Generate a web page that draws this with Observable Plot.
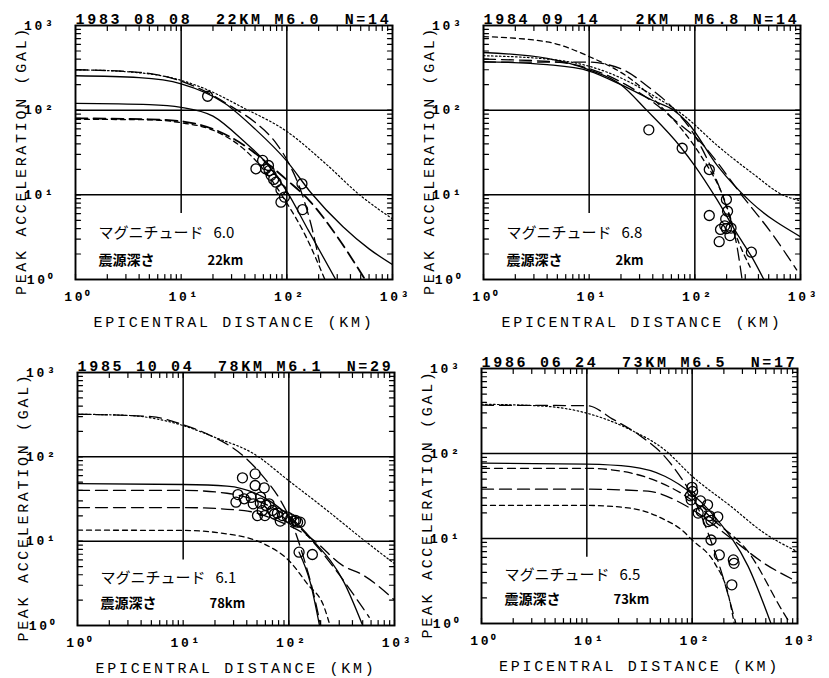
<!DOCTYPE html>
<html><head><meta charset="utf-8">
<script src="https://cdn.jsdelivr.net/npm/d3@7"></script>
<script src="https://cdn.jsdelivr.net/npm/@observablehq/plot@0.6"></script>
<style>
body{margin:0;background:#fff;}
#root{position:relative;width:829px;height:678px;overflow:hidden;background:#fff;}
.panel{position:absolute;}
.panel svg text{letter-spacing:2.7px;}
.panel svg g[font-family*="CJK"] text{letter-spacing:0px;}
</style></head>
<body><div id="root"></div>
<script>
// ---------- axis / text data ----------
const decades = [1, 10, 100, 1000];
const decadeLabels = ["10⁰", "10¹", "10²", "10³"];
const minorSteps = [2, 3, 4, 5, 6, 7, 8, 9];
const xTitle = "EPICENTRAL DISTANCE (KM)";
const yTitle = "PEAK ACCELERATION (GAL)";
const panelTitles = [
  "1983 08 08  22KM M6.0  N=14",
  "1984 09 14   2KM  M6.8 N=14",
  "1985 10 04  78KM M6.1  N=29",
  "1986 06 24  73KM M6.5  N=17"
];
const magnitudeLabel = "マグニチュード";
const depthLabel = "震源深さ";
const magnitudes = ["6.0", "6.8", "6.1", "6.5"];
const depths = ["22km", "2km", "78km", "73km"];

// ---------- panel 1 : 1983 08 08 ----------
const p1Dotted   = [[1,300],[3,285],[10,225],[17,178],[38,108],[100,56],[236,23],[488,10],[1000,5.2]];
const p1LongA    = [[1,300],[4,280],[10,220],[18,160],[30,110],[50,72],[80,40],[100,26],[140,10],[175,3.8],[204,1.6]];
const p1SolidA   = [[1,255],[4,242],[10,205],[26,120],[50,60],[100,25],[170,10.5],[340,4.2],[600,2.3],[1000,1.5]];
const p1SolidB   = [[1,120],[5,116],[10,108],[20,85],[40,42],[60,26],[100,11],[160,3.8],[290,1]];
const p1LongB    = [[1,80],[5,78],[10,74],[20,60],[40,38],[70,22],[100,15],[164,8.5],[300,3.2],[550,1]];
const p1Short    = [[1,78],[5,77],[10,71],[20,58],[40,34],[60,20],[100,8],[150,3.3],[229,1]];
const p1Obs = [[17.8,146],[51,20.3],[59,25.5],[67,22.2],[68,19.3],[71,17],[75,15.2],[79,14.1],[88,11.5],[95,9.4],[88,8.2],[139,13.5],[141,6.7],[63,20.3]];

// ---------- panel 2 : 1984 09 14 ----------
const p2Dotted   = [[1,440],[5,390],[10,330],[20,240],[40,150],[80,85],[164,38],[340,18.5],[700,9.8],[1000,8.5]];
const p2Short    = [[1,740],[4,640],[10,430],[27,215],[47,113],[79,55],[114,29],[189,9],[253,3],[334,1.4]];
const p2LongSteep= [[1,370],[10,370],[15,345],[21,300],[38,180],[63,104],[100,50],[140,22],[200,7],[250,2.5],[280,1]];
const p2SolidS   = [[1,480],[4,410],[10,300],[20,200],[35,100],[73,37],[100,22],[160,9],[250,3.5],[350,1.8],[450,1]];
const p2SolidR   = [[1,375],[4,345],[10,290],[20,200],[40,130],[63,100],[85,72],[164,22],[340,8.2],[1000,3.2]];
const p2LongR    = [[1,400],[5,370],[10,310],[20,215],[40,125],[70,70],[105,46],[295,9],[526,3.6],[920,1.3]];
const p2Obs = [[36.7,58.6],[75.9,35.5],[137,19.9],[199,8.8],[204,6.4],[137,5.7],[196,5.2],[192,4.3],[175,3.9],[220,4.05],[215,3.3],[170,2.8],[343,2.1],[199,4.0]];

// ---------- panel 3 : 1985 10 04 ----------
const p3Dotted   = [[1,320],[3,310],[10,235],[20,170],[47,108],[100,52],[232,23],[480,11],[1000,5.4]];
const p3LongSteep= [[1,320],[5,300],[10,240],[18,180],[38,100],[58,57],[84,30],[110,15],[140,6],[170,2.5],[200,1]];
const p3Solid    = [[1,48],[10,47],[26,45],[58,33],[105,19],[160,11],[335,3.2],[500,1]];
const p3LongMid  = [[1,40],[10,40],[26,37],[58,28],[105,18],[180,9],[300,4],[577,1.25]];
const p3LongLow  = [[1,25],[10,25],[38,23],[78,17.5],[160,11],[335,5],[480,4.1],[1000,2]];
const p3Short    = [[1,13.5],[10,13.4],[26,12.2],[58,9.3],[100,5.9],[150,3.1],[216,1.65],[245,1]];
const p3Thin     = [[125,7.4],[160,3.2],[195,1]];
const p3Obs = [[36.4,56.4],[48,62.8],[48,45.7],[58.5,42.9],[33,35.7],[37.8,31.8],[31.6,29],[46,27.7],[53.7,28.2],[60.8,26.5],[50.5,20.1],[59.4,20.1],[70,23.1],[78,21.5],[87,20.1],[83,17.3],[104,18.4],[112,17.3],[121,16.8],[128,16.8],[116,17.6],[65,27.7],[54,33.3],[125,7.4],[167,6.95],[97,19.3],[44,33],[73,21],[56,23]];

// ---------- panel 4 : 1986 06 24 ----------
const p4Dotted   = [[1,380],[4,360],[10,298],[26,190],[55,110],[100,54],[232,24],[483,11.6],[1000,7]];
const p4LongSteep= [[1,370],[10,365],[18,250],[33,158],[55,92],[80,50],[100,32],[140,12],[190,4],[260,1]];
const p4Solid    = [[1,77],[10,75],[26,70],[55,54],[98,34],[164,18],[340,4.7],[560,1]];
const p4Dash     = [[1,67],[10,67],[26,59],[55,43],[100,28],[164,16],[340,7],[720,1.4],[850,1]];
const p4LongLow  = [[1,38],[10,38],[38,36],[79,26],[100,22],[235,10],[483,5.1],[1000,3.1]];
const p4Short    = [[1,24.5],[10,24.5],[26,22.7],[55,16.6],[79,12.7],[100,9.6],[164,5.1],[218,2.3],[251,1]];
const p4Obs = [[99.6,40],[101,35.7],[96,31.8],[98,28.5],[120,27.7],[140,24.9],[122,20.8],[114,19.9],[146,18.5],[175,18],[151,16.3],[142,15.8],[151,9.6],[181,6.4],[246,5.6],[250,5.1],[238,2.85]];

// ---------- styling ----------
const dashes = {solid: null, long: "12,6", heavy: "12,6", dash: "8,5", short: "5,4", dotted: "1.6,2.4"};
const widths = {solid: 1.3, long: 1.3, heavy: 1.8, dash: 1.3, short: 1.3, dotted: 1.2};
const panels = [
  {left: 0,   top: 0,   width: 414, height: 330, m: [25, 22, 51, 75],
   curves: [[p1Dotted,"dotted"],[p1LongA,"long"],[p1SolidA,"solid"],[p1SolidB,"solid"],[p1LongB,"heavy"],[p1Short,"short"]], obs: p1Obs, textDy: [-42, -15]},
  {left: 414, top: 0,   width: 415, height: 330, m: [25, 29, 51, 69],
   curves: [[p2Dotted,"dotted"],[p2Short,"short"],[p2LongSteep,"long"],[p2SolidS,"solid"],[p2SolidR,"solid"],[p2LongR,"long"]], obs: p2Obs, textDy: [-42, -15]},
  {left: 0,   top: 330, width: 414, height: 348, m: [42, 20, 53, 77],
   curves: [[p3Dotted,"dotted"],[p3LongSteep,"long"],[p3Solid,"solid"],[p3LongMid,"long"],[p3LongLow,"long"],[p3Short,"short"],[p3Thin,"solid"]], obs: p3Obs, textDy: [-43, -18]},
  {left: 414, top: 330, width: 415, height: 348, m: [38, 32, 55, 67],
   curves: [[p4Dotted,"dotted"],[p4LongSteep,"long"],[p4Solid,"solid"],[p4Dash,"dash"],[p4LongLow,"long"],[p4Short,"short"]], obs: p4Obs, textDy: [-44, -20]}
];

const tickValues = decades.slice(0, 3).flatMap(d => [d, ...minorSteps.map(m => d * m)]).concat([1000]);
const tickShape = {draw(ctx, l) { ctx.moveTo(0, 0); ctx.lineTo(0, -l); }};
const MONO = "Liberation Mono";
const CJK = "Noto Sans CJK JP";

function tickMarks() {
  const o = {length: 5, anchor: "start", shape: tickShape, strokeWidth: 1.2, stroke: "black"};
  return [
    Plot.vectorX(tickValues, {...o, x: d => d, frameAnchor: "bottom", rotate: 0}),
    Plot.vectorX(tickValues, {...o, x: d => d, frameAnchor: "top", rotate: 180}),
    Plot.vectorY(tickValues, {...o, y: d => d, frameAnchor: "left", rotate: 90}),
    Plot.vectorY(tickValues, {...o, y: d => d, frameAnchor: "right", rotate: -90})
  ];
}

const root = document.getElementById("root");
panels.forEach((p, i) => {
  const [mt, mr, mb, ml] = p.m;
  const marks = [
    Plot.ruleX([10], {x: d => d, y1: 6, y2: 1000, stroke: "black", strokeWidth: 1.5}),
    Plot.ruleX([100], {x: d => d, stroke: "black", strokeWidth: 1.5}),
    Plot.ruleY([10, 100], {y: d => d, stroke: "black", strokeWidth: 1.5}),
    ...p.curves.map(([data, kind]) => Plot.line(data, {
      x: d => d[0], y: d => d[1], stroke: "black",
      strokeWidth: widths[kind],
      strokeDasharray: dashes[kind], curve: "monotone-x", clip: true
    })),
    Plot.dot(p.obs, {x: d => d[0], y: d => d[1], r: 5, stroke: "black", strokeWidth: 1.3, fill: "none"}),
    ...tickMarks(),
    Plot.frame({stroke: "black", strokeWidth: 1.9}),
    // tick labels
    Plot.text(decades, {x: d => d, text: (d, j) => decadeLabels[j], frameAnchor: "bottom", dy: 21, dx: 3, fontFamily: MONO, fontWeight: "bold", fontSize: 13, fill: "black"}),
    Plot.text(decades, {y: d => d, text: (d, j) => decadeLabels[j], frameAnchor: "left", dx: -20, textAnchor: "end", fontFamily: MONO, fontWeight: "bold", fontSize: 13, fill: "black"}),
    // axis titles
    Plot.text([xTitle], {frameAnchor: "bottom", textAnchor: "middle", dy: 47, fontFamily: MONO, fontSize: 15, fill: "black"}),
    Plot.text([yTitle], {frameAnchor: "left", textAnchor: "middle", dx: -54, dy: 8, rotate: -90, fontFamily: MONO, fontSize: 15, fill: "black"}),
    // panel title
    Plot.text([panelTitles[i]], {frameAnchor: "top-left", dy: -12, textAnchor: "start", fontFamily: MONO, fontWeight: "bold", fontSize: 15, fill: "black"}),
    // annotations
    Plot.text([magnitudeLabel], {frameAnchor: "bottom-left", dx: 23, dy: p.textDy[0], lineAnchor: "bottom", textAnchor: "start", fontFamily: CJK, fontSize: 15, fill: "black"}),
    Plot.text([magnitudes[i]], {frameAnchor: "bottom-left", dx: 138, dy: p.textDy[0], lineAnchor: "bottom", textAnchor: "start", fontFamily: CJK, fontSize: 15, fill: "black"}),
    Plot.text([depthLabel], {frameAnchor: "bottom-left", dx: 23, dy: p.textDy[1], lineAnchor: "bottom", textAnchor: "start", fontFamily: CJK, fontWeight: "bold", fontSize: 14, fill: "black"}),
    Plot.text([depths[i]], {frameAnchor: "bottom-left", dx: 132, dy: p.textDy[1], lineAnchor: "bottom", textAnchor: "start", fontFamily: CJK, fontWeight: "bold", fontSize: 13, fill: "black"})
  ];
  const svg = Plot.plot({
    width: p.width, height: p.height,
    marginTop: mt, marginRight: mr, marginBottom: mb, marginLeft: ml,
    x: {type: "log", domain: [1, 1000], axis: null},
    y: {type: "log", domain: [1, 1000], axis: null},
    style: {background: "white", color: "black", overflow: "visible"},
    marks
  });
  const div = document.createElement("div");
  div.className = "panel";
  div.style.left = p.left + "px";
  div.style.top = p.top + "px";
  div.style.width = p.width + "px";
  div.style.height = p.height + "px";
  div.appendChild(svg);
  root.appendChild(div);
});
</script>
</body></html>
